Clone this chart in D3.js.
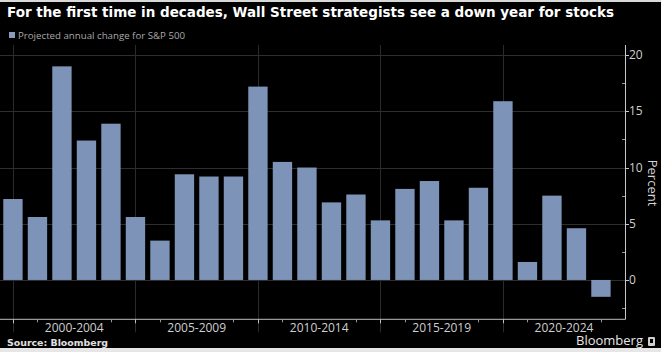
<!DOCTYPE html>
<html><head><meta charset="utf-8">
<script src="https://cdn.jsdelivr.net/npm/d3@7/dist/d3.min.js"></script>
<style>body{margin:0;background:#000;}svg{display:block;}</style>
</head><body>
<script>
const years = d3.range(2000, 2025).map(String);
const values = [7.2, 5.6, 19.0, 12.4, 13.9, 5.6, 3.5, 9.4, 9.2, 9.2, 17.2, 10.5, 10.0, 6.9, 7.6, 5.3, 8.1, 8.8, 5.3, 8.2, 15.9, 1.6, 7.5, 4.6, -1.5];
const groupLabels = ["2000-2004", "2005-2009", "2010-2014", "2015-2019", "2020-2024"];
const yTicks = [0, 5, 10, 15, 20];
const yMinorTicks = [-2.5, 2.5, 7.5, 12.5, 17.5];

const W = 661, H = 352;
const svg = d3.select("body").append("svg").attr("width", W).attr("height", H);
svg.append("rect").attr("width", W).attr("height", H).attr("fill", "#000");
svg.append("rect").attr("width", W).attr("height", 2).attr("fill", "#d8d8d8");
svg.append("rect").attr("y", 348).attr("width", W).attr("height", 4).attr("fill", "#e6e6e6");

const plotLeft = 0.7, plotRight = 625, plotTop = 45, plotBottom = 319.3;
const x = d3.scaleBand().domain(years).range([plotLeft, plotLeft + 25 * 24.5]).paddingInner(0.21).paddingOuter(0.105);
const y = d3.scaleLinear().domain([-3.5, 20.9]).range([plotBottom, plotTop]);

// horizontal gridlines
svg.append("g").selectAll("line").data(yTicks).join("line")
  .attr("x1", 0).attr("x2", plotRight)
  .attr("y1", d => Math.round(y(d)) + 0.5).attr("y2", d => Math.round(y(d)) + 0.5)
  .attr("stroke", "#2e2e2e").attr("stroke-width", 1);

// vertical gridlines at group starts
const groupStarts = years.filter((d, i) => i % 5 === 0);
svg.append("g").selectAll("line").data(groupStarts).join("line")
  .attr("x1", d => Math.round(x(d) + x.bandwidth() / 2) + 0.5)
  .attr("x2", d => Math.round(x(d) + x.bandwidth() / 2) + 0.5)
  .attr("y1", plotTop).attr("y2", plotBottom + 13)
  .attr("stroke", "#2a2a2a").attr("stroke-width", 1);

// bars
svg.append("g").selectAll("rect").data(values).join("rect")
  .attr("x", (d, i) => x(years[i]))
  .attr("width", x.bandwidth())
  .attr("y", d => y(Math.max(0, d)))
  .attr("height", d => Math.abs(y(d) - y(0)))
  .attr("fill", "#7d94b8");

// x axis line
svg.append("line").attr("x1", 0).attr("x2", plotRight + 0.5)
  .attr("y1", plotBottom).attr("y2", plotBottom).attr("stroke", "#bdbdbd").attr("stroke-width", 1);
// minor ticks at each year
svg.append("g").selectAll("line").data(years).join("line")
  .attr("x1", d => Math.round(x(d) + x.bandwidth() / 2) + 0.5)
  .attr("x2", d => Math.round(x(d) + x.bandwidth() / 2) + 0.5)
  .attr("y1", plotBottom).attr("y2", plotBottom + 3)
  .attr("stroke", "#9a9a9a");
// major ticks at group starts
svg.append("g").selectAll("line").data(groupStarts).join("line")
  .attr("x1", d => Math.round(x(d) + x.bandwidth() / 2) + 0.5)
  .attr("x2", d => Math.round(x(d) + x.bandwidth() / 2) + 0.5)
  .attr("y1", plotBottom).attr("y2", plotBottom + 4)
  .attr("stroke", "#bdbdbd");

// group labels
const groupCenters = groupStarts.map((d, i) => {
  const a = x(d) + x.bandwidth() / 2;
  const b = i < groupStarts.length - 1 ? x(groupStarts[i + 1]) + x.bandwidth() / 2 : plotRight;
  return (a + b) / 2;
});
const gl = svg.append("g").selectAll("g").data(groupLabels).join("g")
  .attr("transform", (d, i) => `translate(${groupCenters[i]},0)`);
gl.append("rect").attr("x", -33).attr("width", 66).attr("y", plotBottom + 1).attr("height", 13).attr("fill", "#000");
gl.append("text").text(d => d).attr("y", 332).attr("text-anchor", "middle")
  .attr("fill", "#cfcfcf").attr("font-family", "'Open Sans', sans-serif").attr("font-size", 12);

// right axis
svg.append("line").attr("x1", plotRight + 0.5).attr("x2", plotRight + 0.5)
  .attr("y1", plotTop).attr("y2", plotBottom).attr("stroke", "#c8c8c8");
svg.append("g").selectAll("line").data(yTicks).join("line")
  .attr("x1", plotRight).attr("x2", plotRight + 4)
  .attr("y1", d => Math.round(y(d)) + 0.5).attr("y2", d => Math.round(y(d)) + 0.5)
  .attr("stroke", "#c8c8c8");
svg.append("g").selectAll("line").data(yMinorTicks).join("line")
  .attr("x1", plotRight - 3).attr("x2", plotRight)
  .attr("y1", d => Math.round(y(d)) + 0.5).attr("y2", d => Math.round(y(d)) + 0.5)
  .attr("stroke", "#9a9a9a");
svg.append("g").selectAll("text").data(yTicks).join("text")
  .text(d => d).attr("x", plotRight + 4).attr("y", d => y(d) + 4)
  .attr("fill", "#cfcfcf").attr("font-family", "'Open Sans', sans-serif").attr("font-size", 12);
svg.append("text").text("Percent")
  .attr("transform", `translate(648,183) rotate(90)`)
  .attr("text-anchor", "middle")
  .attr("fill", "#d6d6d6").attr("font-family", "'Open Sans', sans-serif").attr("font-size", 13);

// title
svg.append("text").text("For the first time in decades, Wall Street strategists see a down year for stocks")
  .attr("x", 7).attr("y", 17).attr("fill", "#fff")
  .attr("font-family", "'DejaVu Sans', sans-serif").attr("font-weight", "bold").attr("font-size", 14)
  .attr("textLength", 607).attr("lengthAdjust", "spacingAndGlyphs");

// legend
svg.append("rect").attr("x", 9).attr("y", 32).attr("width", 6).attr("height", 6).attr("fill", "#8a9ab8");
svg.append("text").text("Projected annual change for S&P 500")
  .attr("x", 18).attr("y", 38.5).attr("fill", "#a8a8a8")
  .attr("font-family", "'Open Sans', sans-serif").attr("font-size", 9.5)
  .attr("textLength", 167).attr("lengthAdjust", "spacingAndGlyphs");

// footer
svg.append("text").text("Source: Bloomberg")
  .attr("x", 7).attr("y", 346).attr("fill", "#e0e0e0")
  .attr("font-family", "'DejaVu Sans', sans-serif").attr("font-weight", "bold").attr("font-size", 9.5)
  .attr("textLength", 101).attr("lengthAdjust", "spacingAndGlyphs");
svg.append("text").text("Bloomberg")
  .attr("x", 643).attr("y", 345).attr("text-anchor", "end").attr("fill", "#e6e6e6")
  .attr("font-family", "'Open Sans', sans-serif").attr("font-size", 13);
svg.append("rect").attr("x", 648).attr("y", 337).attr("width", 7).attr("height", 9).attr("rx", 1).attr("fill", "#cfcfcf");
svg.append("rect").attr("x", 650).attr("y", 339).attr("width", 3).attr("height", 4).attr("fill", "#000");
</script>
</body></html>
